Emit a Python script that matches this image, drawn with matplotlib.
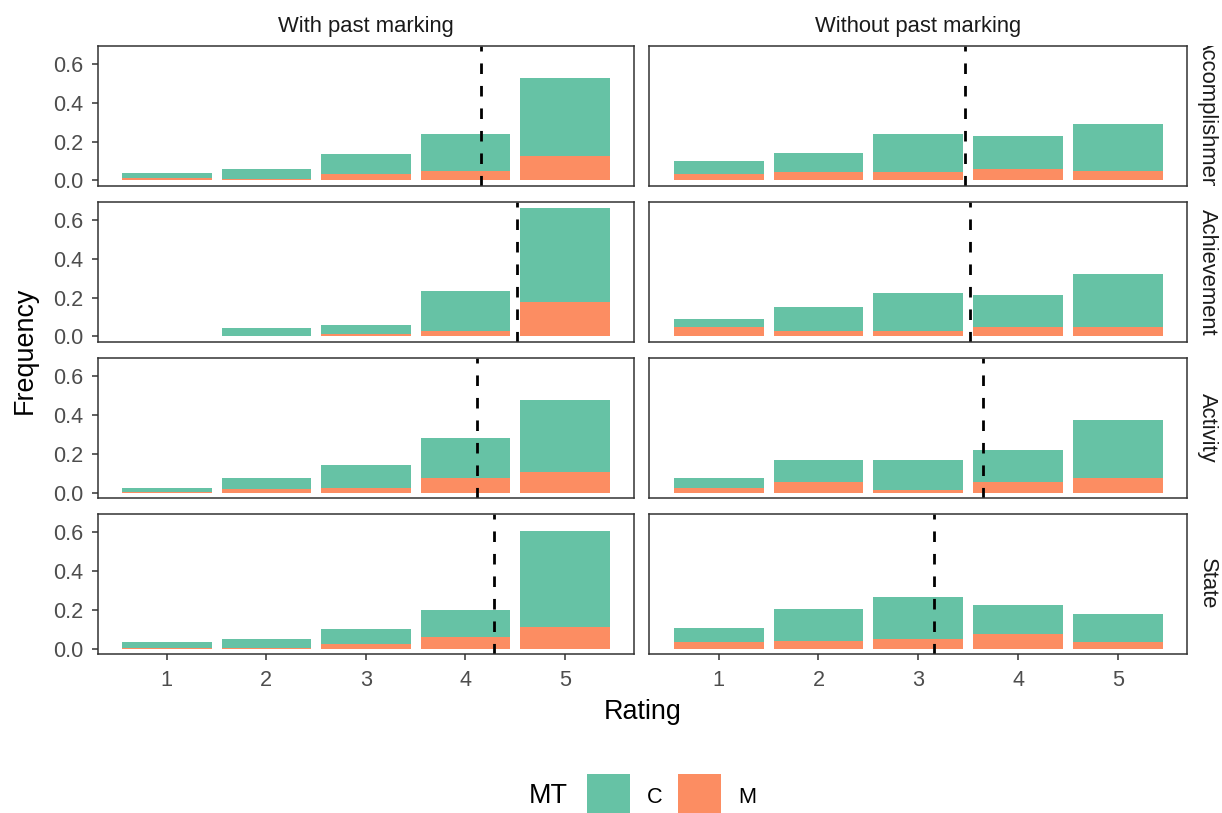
import numpy as np
import matplotlib
matplotlib.use("Agg")
import matplotlib.pyplot as plt
from matplotlib.patches import Rectangle
from matplotlib.transforms import Bbox, TransformedBbox

plt.rcParams['font.family'] = ['Liberation Sans', 'DejaVu Sans']

# data
ratings = [1, 2, 3, 4, 5]
facets = ["Accomplishment", "Achievement", "Activity", "State"]
conditions = ["With past marking", "Without past marking"]

# total frequency per rating (C + M) and the M part
with_total = {
    "Accomplishment": [0.037, 0.057, 0.136, 0.240, 0.526],
    "Achievement":    [0.000, 0.041, 0.057, 0.233, 0.664],
    "Activity":       [0.026, 0.073, 0.140, 0.281, 0.479],
    "State":          [0.033, 0.049, 0.101, 0.199, 0.605],
}
with_m = {
    "Accomplishment": [0.012, 0.005, 0.033, 0.047, 0.127],
    "Achievement":    [0.000, 0.000, 0.014, 0.026, 0.178],
    "Activity":       [0.005, 0.016, 0.026, 0.075, 0.106],
    "State":          [0.003, 0.003, 0.023, 0.061, 0.113],
}
without_total = {
    "Accomplishment": [0.100, 0.141, 0.239, 0.229, 0.291],
    "Achievement":    [0.088, 0.150, 0.223, 0.213, 0.322],
    "Activity":       [0.073, 0.166, 0.166, 0.218, 0.375],
    "State":          [0.106, 0.205, 0.267, 0.225, 0.179],
}
without_m = {
    "Accomplishment": [0.034, 0.045, 0.045, 0.058, 0.048],
    "Achievement":    [0.047, 0.026, 0.026, 0.047, 0.047],
    "Activity":       [0.026, 0.054, 0.012, 0.057, 0.075],
    "State":          [0.033, 0.040, 0.050, 0.075, 0.033],
}
# mean rating (dashed line)
with_mean = [4.16, 4.52, 4.12, 4.29]
without_mean = [3.47, 3.52, 3.65, 3.16]

green = "#66c2a5"
orange = "#fc8d62"

W, H = 1222, 813
fig = plt.figure(figsize=(W / 100, H / 100), dpi=100)


def fx(px):
    return px / W


def fy(py):
    return 1 - py / H


col_lr = [(97.7, 634.0), (649.3, 1187.3)]
row_tops = [45.7, 201.7, 358.0, 514.0]
row_h = 140.3

totals = [with_total, without_total]
ms = [with_m, without_m]
means = [with_mean, without_mean]

for c in range(2):
    for r, name in enumerate(facets):
        l, rr = col_lr[c]
        t = row_tops[r]
        ax = fig.add_axes([fx(l), fy(t + row_h), fx(rr - l), row_h / H])
        tot = np.array(totals[c][name])
        m = np.array(ms[c][name])
        ax.bar(ratings, m, width=0.9, color=orange, linewidth=0)
        ax.bar(ratings, tot - m, bottom=m, width=0.9, color=green, linewidth=0)
        ax.axvline(means[c][r], color="black", lw=2.0, dashes=(3.8, 4.3))
        ax.set_xlim(0.305, 5.695)
        ax.set_ylim(-0.0295, 0.695)
        for sp in ax.spines.values():
            sp.set_color("#333333")
            sp.set_linewidth(1.1)
        ax.tick_params(colors="#333333", length=4.5, width=1.1,
                       labelcolor="#4d4d4d", labelsize=15.6)
        ax.set_yticks([0, 0.2, 0.4, 0.6])
        ax.set_xticks(ratings)
        if c == 0:
            ax.set_yticklabels(["0.0", "0.2", "0.4", "0.6"])
            ax.tick_params(axis="y", pad=6)
        else:
            ax.tick_params(axis="y", left=False, labelleft=False)
        if r == 3:
            ax.set_xticklabels([str(v) for v in ratings])
            ax.tick_params(axis="x", pad=7)
        else:
            ax.tick_params(axis="x", bottom=False, labelbottom=False)

# column strips
for c, lab in enumerate(conditions):
    l, rr = col_lr[c]
    fig.text(fx((l + rr) / 2), fy(31.7), lab, ha="center", va="baseline",
             fontsize=15.8, color="#1a1a1a")

# row strips (clipped like ggplot)
for r, name in enumerate(facets):
    t = row_tops[r]
    txt = fig.text(fx(1207), fy(t + row_h / 2), name, rotation=270,
                   ha="center", va="center", fontsize=15.8, color="#1a1a1a")
    clip = TransformedBbox(Bbox.from_extents(fx(1188), fy(t + row_h), 1.0, fy(t)),
                           fig.transFigure)
    txt.set_clip_box(clip)
    txt.set_clip_on(True)

fig.text(fx(642.5), fy(719.3), "Rating", ha="center", va="baseline", fontsize=19.4)
fig.text(fx(25), fy(350), "Frequency", ha="center", va="center", rotation=90,
         fontsize=19.4)

# legend
fig.text(fx(529), fy(803.3), "MT", ha="left", va="baseline", fontsize=19.4)
for x0, col, lab, tx in [(587, green, "C", 647), (677.7, orange, "M", 738)]:
    fig.add_artist(Rectangle((fx(x0), fy(815)), fx(43), 41 / H,
                             transform=fig.transFigure, color=col, lw=0))
    fig.text(fx(tx), fy(803.3), lab, ha="left", va="baseline", fontsize=15.6)

fig.savefig("out.png", dpi=100)
